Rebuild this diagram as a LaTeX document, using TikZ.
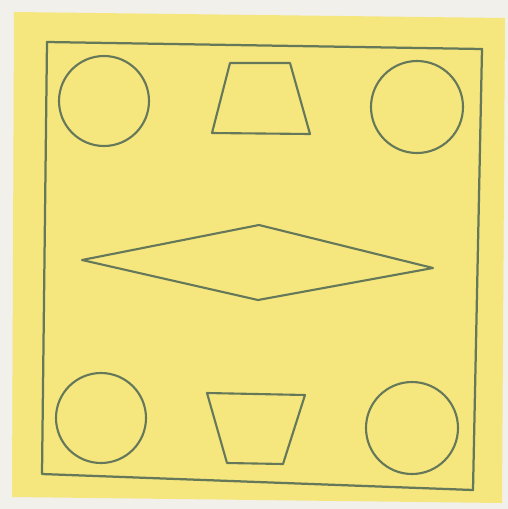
\documentclass[tikz,border=0pt]{standalone}
\usepackage{tikz}
\usetikzlibrary{positioning, calc}
\definecolor{Paper}{HTML}{F1F0EB}
\definecolor{Sheet}{HTML}{F5E67E}
\definecolor{Ink}{HTML}{66785A}
\tikzset{
    outline/.style={draw=Ink, line width=3.2pt, line join=round},
    shapeline/.style={draw=Ink, line width=3pt, line join=round},
}
\begin{document}
\begin{tikzpicture}[x=0.05cm, y=-0.05cm]

    % Fondo
    \fill[Paper] (0,0) rectangle (508,509);
    \useasboundingbox (0,0) rectangle (508,509);
    \fill[Sheet] (14,12) -- (505,18) -- (502,503) -- (12,497) -- cycle;

    % Cornice
    \draw[outline] (47,42) -- (482,49) -- (473,490) -- (42,474) -- cycle;

    % Cerchi agli angoli
    \draw[shapeline] (104,101) circle (45);
    \draw[shapeline] (417,107) circle (46);
    \draw[shapeline] (101,418) circle (45);
    \draw[shapeline] (412,428) circle (46);

    % Trapezi
    \draw[shapeline] (230,63) -- (290,63) -- (310,134) -- (212,133) -- cycle;
    \draw[shapeline] (207,393) -- (305,395) -- (283,464) -- (227,463) -- cycle;

    % Rombo centrale
    \draw[shapeline] (82,260) -- (259,225) -- (433,268) -- (258,300) -- cycle;

\end{tikzpicture}
\end{document}
